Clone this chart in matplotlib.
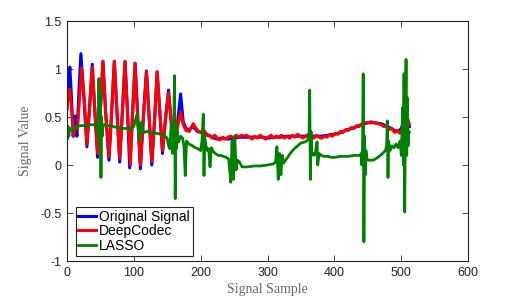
import matplotlib
matplotlib.use('Agg')
import matplotlib.pyplot as plt

# sample positions / values
origX = [0, 2, 4.5, 7, 9.5, 12.5, 15, 18, 21, 25, 30, 34, 38, 42, 46, 50, 54, 58, 63, 67,
         71, 75, 79, 83, 87, 91, 94, 98, 102, 106, 110, 114, 119, 123, 127, 131, 135, 139,
         143, 147, 152, 156, 160, 165, 170, 174, 178, 183, 189, 195, 200, 205, 210, 215,
         220, 225, 230, 240, 250, 260, 270, 280, 290, 300, 310, 320, 330, 340, 350, 360,
         370, 380, 390, 400, 410, 420, 430, 440, 450, 460, 470, 480, 490, 495, 500, 504,
         507, 510, 512]
origY = [0.58, 0.85, 1.02, 0.70, 0.30, 0.51, 0.30, 0.75, 1.16, 0.75, 0.19, 0.60, 1.05, 0.55,
         0.08, 0.55, 1.08, 0.55, 0.05, 0.55, 1.08, 0.55, 0.03, 0.55, 1.08, 0.50, -0.03, 0.50,
         1.06, 0.50, -0.04, 0.45, 0.98, 0.50, 0.00, 0.45, 0.97, 0.55, 0.12, 0.45, 0.78, 0.45,
         0.13, 0.40, 0.74, 0.45, 0.38, 0.37, 0.40, 0.35, 0.34, 0.33, 0.31, 0.30, 0.28, 0.27,
         0.28, 0.27, 0.28, 0.29, 0.29, 0.29, 0.29, 0.28, 0.29, 0.29, 0.30, 0.30, 0.30, 0.30,
         0.30, 0.30, 0.31, 0.32, 0.34, 0.37, 0.39, 0.42, 0.44, 0.44, 0.43, 0.40, 0.36, 0.35,
         0.38, 0.47, 0.52, 0.45, 0.40]

deepX = [0, 2, 4, 7, 10, 13, 16, 19, 22, 26, 30, 34, 38, 42, 46, 50, 54, 58, 63, 67, 71,
         75, 79, 83, 87, 91, 95, 98, 102, 106, 110, 114, 119, 123, 127, 131, 135, 139, 143,
         147, 152, 156, 160, 165, 170, 174, 178, 183, 189, 193, 197, 201, 205, 209, 213,
         217, 221, 225, 229, 233, 237, 241, 245, 249, 253, 257, 261, 265, 269, 273, 277,
         281, 285, 289, 293, 297, 301, 305, 309, 313, 317, 321, 325, 329, 333, 337, 341,
         345, 349, 353, 357, 361, 365, 369, 373, 377, 381, 385, 389, 393, 397, 401, 405,
         409, 413, 417, 421, 425, 429, 433, 437, 441, 445, 450, 455, 460, 465, 470, 474,
         478, 482, 486, 490, 494, 498, 502, 506, 509, 512]
deepY = [0.58, 0.72, 0.79, 0.60, 0.30, 0.40, 0.38, 0.70, 1.01, 0.70, 0.22, 0.60, 1.02, 0.55,
         0.12, 0.55, 1.08, 0.55, 0.09, 0.55, 1.08, 0.55, 0.07, 0.55, 1.08, 0.50, 0.00, 0.50,
         1.06, 0.50, 0.00, 0.45, 0.97, 0.50, 0.04, 0.45, 0.97, 0.55, 0.15, 0.45, 0.75, 0.45,
         0.18, 0.38, 0.55, 0.42, 0.36, 0.35, 0.43, 0.38, 0.35, 0.34, 0.36, 0.32, 0.31, 0.28,
         0.31, 0.28, 0.26, 0.29, 0.27, 0.29, 0.30, 0.28, 0.31, 0.29, 0.31, 0.30, 0.31, 0.29,
         0.27, 0.30, 0.28, 0.31, 0.29, 0.27, 0.29, 0.31, 0.28, 0.30, 0.29, 0.31, 0.28, 0.30,
         0.28, 0.31, 0.29, 0.32, 0.30, 0.28, 0.30, 0.32, 0.29, 0.28, 0.31, 0.29, 0.28, 0.30,
         0.29, 0.32, 0.30, 0.33, 0.32, 0.35, 0.34, 0.37, 0.36, 0.39, 0.38, 0.41, 0.40, 0.43,
         0.44, 0.44, 0.45, 0.44, 0.43, 0.42, 0.40, 0.41, 0.37, 0.38, 0.34, 0.36, 0.33, 0.38,
         0.47, 0.49, 0.42]

lassoX = [0, 1, 2, 3, 4, 6, 8, 12, 16, 20, 25, 30, 35, 40, 44, 46, 47, 48, 49, 50, 51, 52,
          53, 54, 56, 60, 65, 70, 75, 80, 85, 90, 95, 100, 103, 105, 107, 108, 110, 112, 114,
          116, 120, 125, 130, 135, 140, 145, 150, 152, 154, 156, 158, 160, 161, 162, 163,
          164, 165, 167, 170, 173, 175, 177, 179, 182, 185, 188, 192, 196, 200, 202, 204,
          205, 206, 208, 210, 212, 214, 216, 219, 222, 226, 230, 234, 238, 242, 245, 247,
          249, 251, 253, 255, 258, 262, 270, 280, 290, 300, 308, 312, 314, 316, 318, 320,
          322, 324, 330, 336, 340, 345, 350, 356, 360, 362, 363, 364, 365, 366, 368, 370,
          372, 374, 375, 377, 380, 385, 390, 395, 400, 410, 420, 430, 438, 440, 441, 442,
          443, 444, 445, 446, 447, 449, 452, 458, 465, 472, 476, 478, 479, 480, 481, 483,
          486, 489, 492, 495, 498, 500, 502, 503, 504, 505, 506, 507, 508, 509, 510, 511,
          512]
lassoY = [0.38, 0.27, 0.40, 0.30, 0.36, 0.38, 0.36, 0.39, 0.40, 0.41, 0.41, 0.41, 0.42, 0.42,
          0.41, 0.44, 0.30, 0.90, 0.20, 0.78, -0.13, 0.50, 0.30, 0.40, 0.42, 0.41, 0.41, 0.40,
          0.39, 0.39, 0.38, 0.38, 0.37, 0.40, 0.48, 0.53, 0.36, 0.26, 0.38, 0.45, 0.36, 0.34,
          0.35, 0.34, 0.33, 0.33, 0.32, 0.31, 0.28, 0.20, 0.17, 0.42, 0.12, 0.50, 0.93, -0.35,
          0.45, 0.17, 0.35, 0.24, 0.30, 0.28, 0.20, -0.11, 0.25, 0.22, 0.21, 0.20, 0.18, 0.17,
          0.15, 0.25, 0.53, -0.11, 0.30, 0.20, 0.15, 0.17, -0.02, 0.18, 0.14, 0.12, 0.10, 0.10,
          0.09, 0.08, 0.06, -0.18, 0.25, -0.15, 0.30, -0.05, 0.05, 0.03, -0.02, -0.02, -0.01,
          -0.01, 0.00, 0.01, 0.03, 0.19, -0.15, 0.12, -0.10, 0.10, 0.02, 0.08, 0.14, 0.17, 0.20,
          0.23, 0.24, 0.26, 0.30, 0.78, -0.15, 0.35, 0.10, 0.12, 0.10, 0.15, 0.24, 0.00, 0.12,
          0.10, 0.09, 0.09, 0.08, 0.08, 0.09, 0.09, 0.10, 0.10, 0.12, 0.00, 0.20, 0.95, -0.80,
          0.30, -0.10, 0.15, 0.05, 0.05, 0.05, 0.08, 0.12, 0.15, 0.20, 0.46, -0.13, 0.25, 0.15,
          0.20, 0.18, 0.22, 0.18, 0.25, 0.10, 0.60, 0.00, 0.95, -0.49, 0.40, 1.10, 0.10, 0.70,
          0.20, 0.35, 0.34]

xTicks = [0, 100, 200, 300, 400, 500, 600]
yTicks = [-1, -0.5, 0, 0.5, 1, 1.5]
yTickLabels = ['-1', '-0.5', '0', '0.5', '1', '1.5']

plt.rcParams['font.family'] = ['Liberation Sans', 'DejaVu Sans']

fig = plt.figure(figsize=(5.18, 3.0), dpi=100)
ax = fig.add_axes([0.129, 0.13, 0.775, 0.80])

ax.plot(origX, origY, color=(0, 0, 1), lw=2.2, label='Original Signal')
ax.plot(deepX, deepY, color=(1, 0, 0), lw=2.2, label='DeepCodec')
ax.plot(lassoX, lassoY, color=(0, 0.5, 0), lw=2.0, label='LASSO')

ax.set_xlim(0, 600)
ax.set_ylim(-1, 1.5)
ax.set_xticks(xTicks)
ax.set_yticks(yTicks)
ax.set_yticklabels(yTickLabels)
ax.tick_params(direction='in', top=True, right=True, labelsize=9, length=4,
               width=0.6, colors='#222222', pad=4)
for sp in ax.spines.values():
    sp.set_linewidth(0.8)
    sp.set_color('#222222')

ax.set_xlabel('Signal Sample', family='Liberation Serif', fontsize=10, color='#666666', labelpad=3)
ax.set_ylabel('Signal Value', family='Liberation Serif', fontsize=10, color='#666666', labelpad=6)

leg = ax.legend(loc='lower left', bbox_to_anchor=(0.015, 0.01), fontsize=10,
                handlelength=1.3, handletextpad=0.2, borderpad=0.2, labelspacing=0.05,
                fancybox=False, framealpha=1, borderaxespad=0.2)
leg.get_frame().set_edgecolor('#222222')
leg.get_frame().set_linewidth(0.8)

fig.savefig('out.png', dpi=100)
